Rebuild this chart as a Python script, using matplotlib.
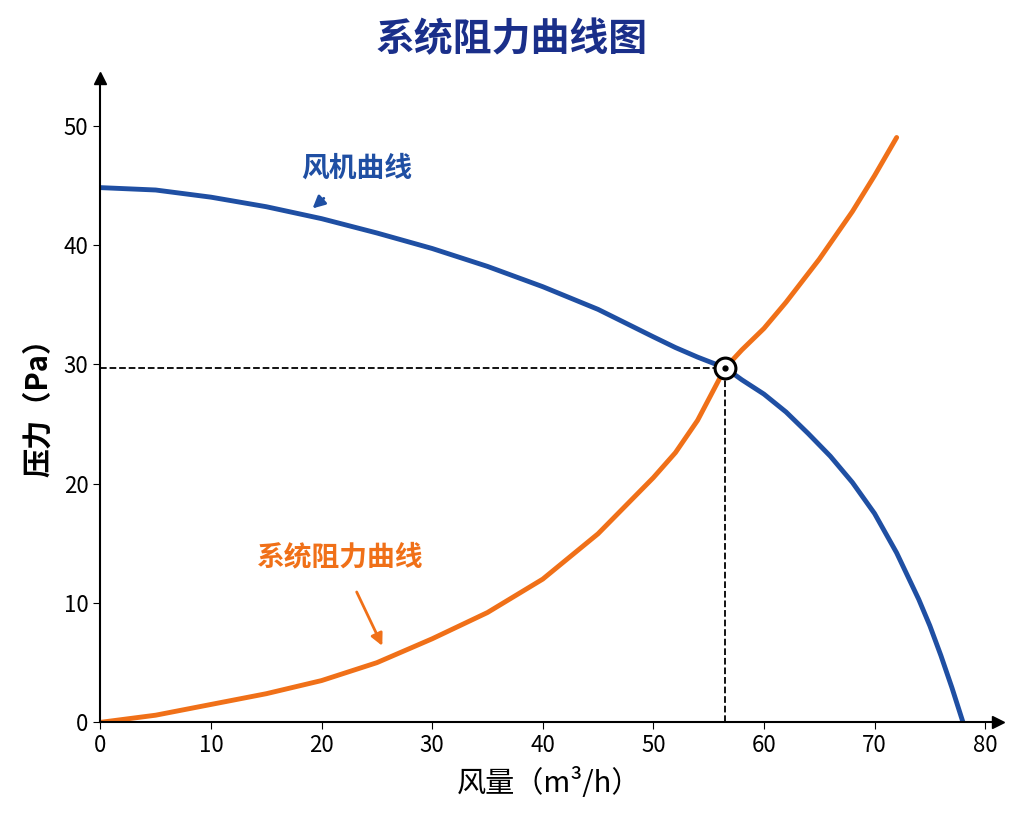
import matplotlib.pyplot as plt

plt.rcParams['font.family'] = ['Noto Sans CJK SC', 'DejaVu Sans']

fan_x = [0, 5, 10, 15, 20, 25, 30, 35, 40, 45, 50, 52, 54, 56.5, 58, 60, 62, 64, 66, 68, 70, 72, 74, 75, 76, 77, 78]
fan_y = [44.8, 44.6, 44.0, 43.2, 42.2, 41.0, 39.7, 38.2, 36.5, 34.6, 32.3, 31.4, 30.6, 29.7, 28.7, 27.5, 26.0, 24.2, 22.3, 20.1, 17.5, 14.2, 10.3, 8.1, 5.6, 2.9, 0]
sys_x = [0, 5, 10, 15, 20, 25, 30, 35, 40, 45, 50, 52, 54, 56.5, 58, 60, 62, 65, 68, 70, 72]
sys_y = [0, 0.6, 1.5, 2.4, 3.5, 5.0, 7.0, 9.2, 12.0, 15.8, 20.5, 22.6, 25.3, 29.7, 31.2, 33.0, 35.2, 38.8, 42.8, 45.8, 49.0]
op_x, op_y = 56.5, 29.7
blue = '#1f4fa3'
orange = '#f07018'

fig, ax = plt.subplots(figsize=(10.24, 8.19), dpi=100)
fig.subplots_adjust(left=0.098, right=0.975, bottom=0.118, top=0.905)
ax.plot(fan_x, fan_y, color=blue, lw=3.5, solid_capstyle='round', solid_joinstyle='round')
ax.plot(sys_x, sys_y, color=orange, lw=3.5, solid_capstyle='round', solid_joinstyle='round')
ax.plot([0, op_x], [op_y, op_y], 'k--', lw=1.3)
ax.plot([op_x, op_x], [0, op_y], 'k--', lw=1.3)
ax.plot(op_x, op_y, 'o', ms=15, mfc='white', mec='black', mew=2.2, zorder=5)
ax.plot(op_x, op_y, 'o', ms=3.5, color='black', zorder=6)

ax.set_xlim(0, 81.2)
ax.set_ylim(0, 54)
ax.set_xticks(range(0, 81, 10))
ax.set_yticks(range(0, 51, 10))
ax.tick_params(labelsize=16, direction='out', length=5)
for s in ['top', 'right']:
    ax.spines[s].set_visible(False)
ax.spines['left'].set_linewidth(1.5)
ax.spines['bottom'].set_linewidth(1.5)
ax.plot(1, 0, '>k', transform=ax.transAxes, clip_on=False, ms=8)
ax.plot(0, 1, '^k', transform=ax.transAxes, clip_on=False, ms=8)

ax.set_xlabel('风量（m³/h）', fontsize=21, labelpad=8)
ax.set_ylabel('压力（Pa）', fontsize=21, fontweight='bold', labelpad=8)
fig.suptitle('系统阻力曲线图', fontsize=28, fontweight='bold', color='#1a2f8a', y=0.975)

ax.annotate('风机曲线', xy=(19, 42.9), xytext=(23.2, 46.4), fontsize=20, fontweight='bold',
            color=blue, ha='center', va='center',
            arrowprops=dict(arrowstyle='-|>', color=blue, lw=2, shrinkA=14, mutation_scale=18))
ax.annotate('系统阻力曲线', xy=(25.6, 6.2), xytext=(21.7, 13.8), fontsize=20, fontweight='bold',
            color=orange, ha='center', va='center',
            arrowprops=dict(arrowstyle='-|>', color=orange, lw=2, shrinkA=14, mutation_scale=18))

fig.savefig('out.png')
